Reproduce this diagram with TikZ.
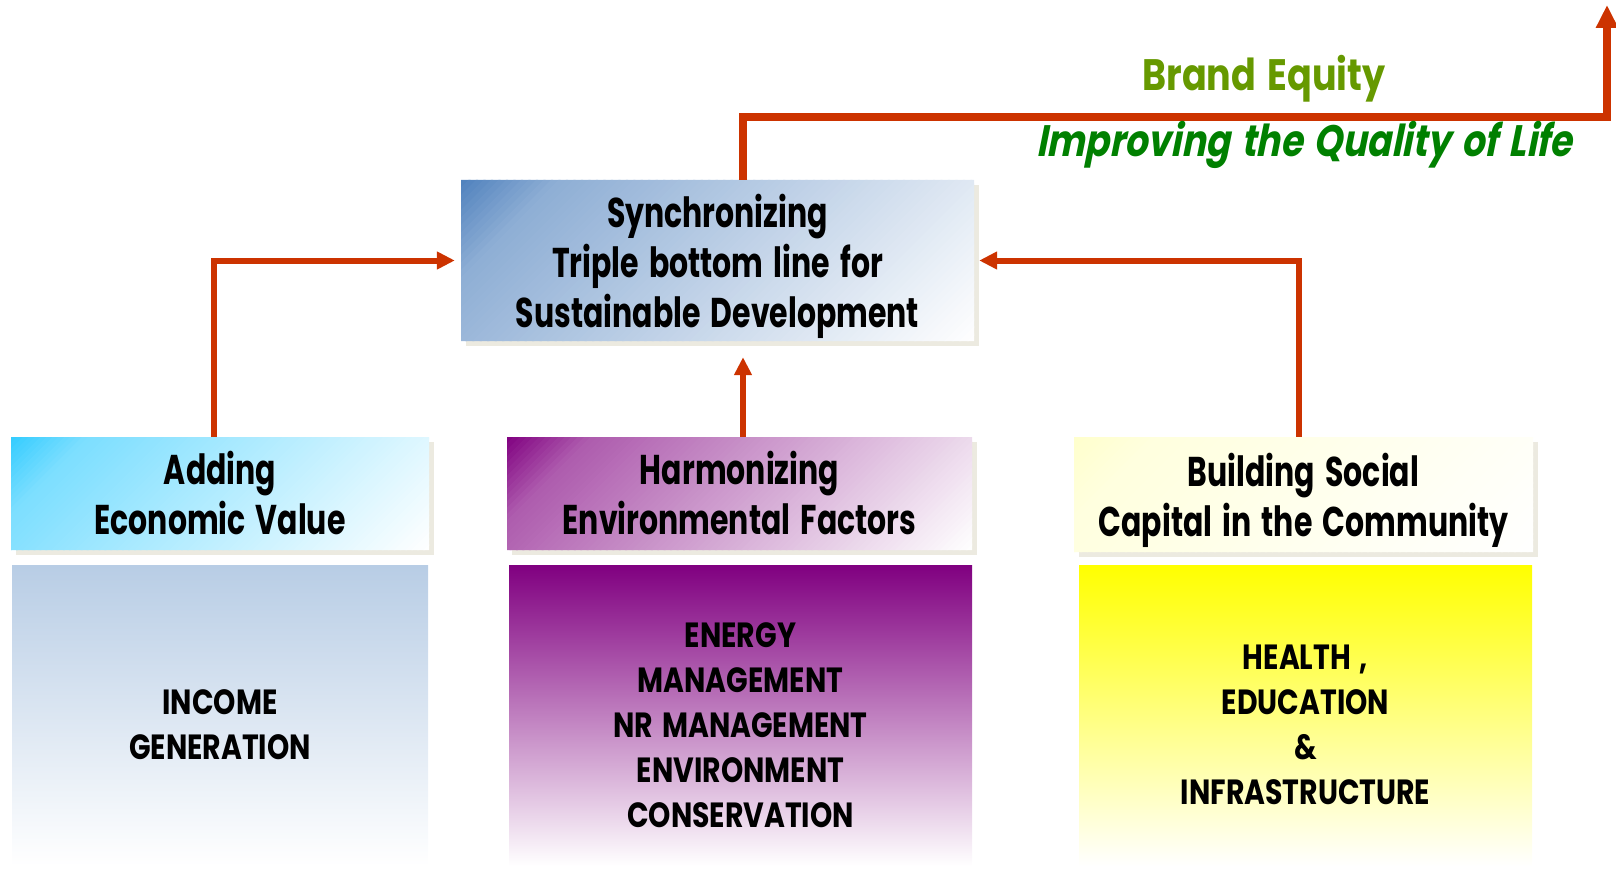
\documentclass[tikz,border=0pt]{standalone}
\usepackage{fontspec}
\usetikzlibrary{arrows.meta}
\newfontfamily\boxfont{Poppins}[FakeStretch=0.72,WordSpace=1.6]
\newfontfamily\itemfont{Poppins}[FakeStretch=0.81,WordSpace=1.5]
\newfontfamily\tagfont{Poppins}[FakeStretch=0.83,WordSpace=1.5]
\newfontfamily\slogfont{Poppins}[FakeStretch=0.82,WordSpace=1.5,FakeSlant=0.2]

\definecolor{linkred}{RGB}{204,51,0}
\definecolor{shadowgray}{RGB}{236,234,224}
\definecolor{syncblue}{RGB}{79,129,189}
\definecolor{econcyan}{RGB}{51,204,255}
\definecolor{envpurple}{RGB}{128,0,128}
\definecolor{socyellow}{RGB}{255,255,204}
\definecolor{incomeblue}{RGB}{184,205,229}
\definecolor{healthyellow}{RGB}{255,255,0}
\definecolor{brandgreen}{RGB}{102,153,0}
\definecolor{lifegreen}{RGB}{0,128,0}

% box with a flat shadow and a fade from colour #6 (top left) to white (bottom right)
% #1 name, #2 #3 centre, #4 width, #5 height, #7 text
\newcommand\fadebox[7]{%
  \pgfmathsetmacro\fx{#2-#4/2}
  \pgfmathsetmacro\fy{#3-#5/2}
  \fill[shadowgray] ({\fx+5},{\fy+5}) rectangle ++(#4,#5);
  \begin{scope}
    \clip (\fx,\fy) rectangle ++(#4,#5);
    \foreach \k in {0,...,89}{
      \pgfmathsetmacro\pct{100*max(1-2.5*(\k+0.5)/90,0.75*(1-(\k+0.5)/90))}
      \fill[#6!\pct!white]
        ({\fx+\k/90*(#4+#5)},\fy) -- ({\fx+(\k+1.3)/90*(#4+#5)},\fy)
        -- ({\fx+(\k+1.3)/90*(#4+#5)-#5},{\fy+#5}) -- ({\fx+\k/90*(#4+#5)-#5},{\fy+#5}) -- cycle;
    }
  \end{scope}
  \node[topbox,minimum width=#4pt,minimum height=#5pt] (#1) at (#2,#3) {#7};
}

\begin{document}
\begin{tikzpicture}[x=1pt,y=-1pt,
  topbox/.style={font=\boxfont\bfseries\fontsize{41.6}{50}\selectfont,align=center,inner sep=0pt},
  lowbox/.style={inner sep=0pt,bottom color=white},
  itemtext/.style={font=\itemfont\bfseries\fontsize{35}{45}\selectfont,align=center,inner sep=0pt},
  connector/.style={draw=linkred,line width=6pt,-{Triangle[length=18pt,width=17pt]}}]
\useasboundingbox (0,0) rectangle (1616,869);

% top box
\fadebox{sync}{717.5}{260.5}{513}{161}{syncblue}{Synchronizing\\Triple bottom line for\\\smash{Sustainable Development}}

% the three pillars
\fadebox{econ}{220}{493.5}{418}{113}{econcyan}{Adding\\Economic Value}
\fadebox{env}{739.5}{493.5}{465}{113}{envpurple}{Harmonizing\\Environmental Factors}
\fadebox{soc}{1303.5}{494.5}{459}{115}{socyellow}{Building Social\\\smash{Capital in the Community}}

% what each pillar covers
\node[lowbox,minimum width=416pt,minimum height=301pt,top color=incomeblue] (income) at (220,715.5) {};
\node[lowbox,minimum width=463pt,minimum height=301pt,top color=envpurple] (energy) at (740.5,715.5) {};
\node[lowbox,minimum width=453pt,minimum height=301pt,top color=healthyellow] (health) at (1305.5,715.5) {};
\node[itemtext] (incometext) at (220,725) {INCOME\\GENERATION};
\node[itemtext] (energytext) at (740.5,725) {ENERGY\\MANAGEMENT\\NR MANAGEMENT\\ENVIRONMENT\\CONSERVATION};
\node[itemtext] (healthtext) at (1305.5,725) {HEALTH ,\\EDUCATION\\\&\\INFRASTRUCTURE};

% arrows
\coordinate (spine) at (743,0);
\coordinate (bend) at (1607,117);
\coordinate (peak) at (1607,5);
\draw[connector,shorten >=6pt] ([xshift=-6pt]econ.north) |- (sync.west);
\draw[connector,shorten >=16pt] (env.north -| spine) -- (sync.south -| spine);
\draw[connector,shorten >=5pt] ([xshift=-5pt]soc.north) |- (sync.east);
\draw[connector,line width=8pt,-{Triangle[length=23pt,width=21pt]}] (sync.north -| spine) |- (bend) -- (peak);

\node[anchor=base,text=brandgreen,font=\tagfont\bfseries\fontsize{44}{50}\selectfont] (brand) at (1264,91) {Brand Equity};
\node[anchor=base,text=lifegreen,font=\slogfont\bfseries\fontsize{44}{50}\selectfont] (life) at (1304,157) {Improving the Quality of Life};
\end{tikzpicture}
\end{document}
